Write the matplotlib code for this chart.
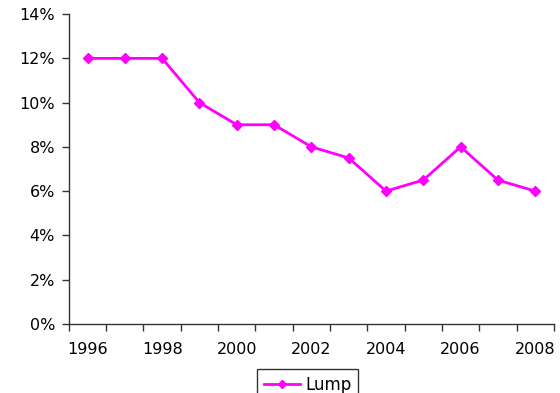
import matplotlib
matplotlib.use("Agg")
import matplotlib.pyplot as plt
from matplotlib.ticker import FixedLocator, FuncFormatter

years = [1996, 1997, 1998, 1999, 2000, 2001, 2002, 2003, 2004, 2005, 2006, 2007, 2008]
lump = [12, 12, 12, 10, 9, 9, 8, 7.5, 6, 6.5, 8, 6.5, 6]
y_ticks = [0, 2, 4, 6, 8, 10, 12, 14]

plt.rcParams['font.family'] = ['DejaVu Sans']
FS = 11.5

fig = plt.figure(figsize=(5.6, 3.93), dpi=100)
ax = fig.add_axes([0.123, 0.176, 0.866, 0.788])

pos = list(range(len(years)))
ax.plot(pos, lump, color='#FF00FF', lw=2, marker='D', ms=5.5,
        markeredgecolor='#FF00FF', label='Lump')

ax.set_xlim(-0.5, len(years) - 0.5)
ax.set_ylim(0, 14)
ax.set_yticks(y_ticks)
ax.yaxis.set_major_formatter(FuncFormatter(lambda v, p: f"{int(v)}%"))

# category axis: tick marks between categories, labels on every other category
ax.xaxis.set_major_locator(FixedLocator([p - 0.5 for p in pos] + [len(years) - 0.5]))
ax.xaxis.set_major_formatter(FuncFormatter(lambda v, p: ""))
ax.xaxis.set_minor_locator(FixedLocator(pos[::2]))
ax.set_xticklabels([str(y) for y in years[::2]], minor=True)
ax.tick_params(axis='x', which='minor', length=0, pad=13, labelsize=FS)
ax.tick_params(axis='x', which='major', length=5, width=1, color='#333333')
ax.tick_params(axis='y', length=5, width=1, color='#333333', labelsize=FS, pad=5)

for s in ['top', 'right']:
    ax.spines[s].set_visible(False)
for s in ['left', 'bottom']:
    ax.spines[s].set_color('#333333')
    ax.spines[s].set_linewidth(1)

leg = fig.legend(loc='upper left', bbox_to_anchor=(257 / 560, 1 - 369 / 393),
                 frameon=True, fancybox=False, edgecolor='black', fontsize=12,
                 handlelength=2.2, borderpad=0.4, handletextpad=0.3,
                 borderaxespad=0, markerscale=0.8)
leg.get_frame().set_linewidth(1)

fig.savefig('out.png', dpi=100)
